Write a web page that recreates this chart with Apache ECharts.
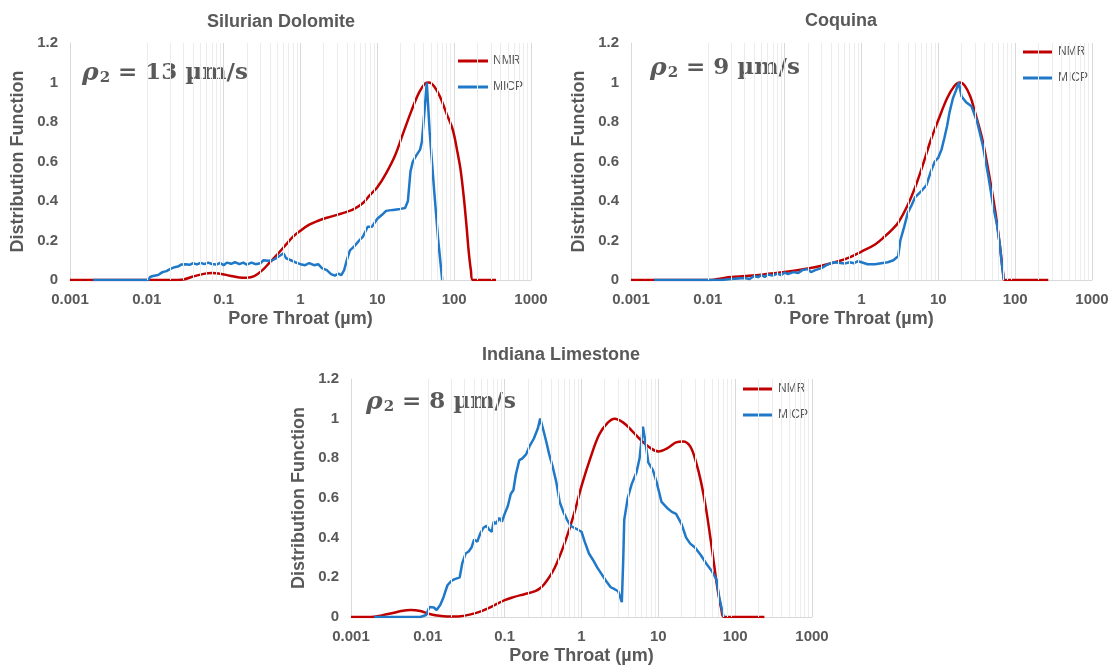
<!DOCTYPE html>
<html>
<head>
<meta charset="utf-8">
<script src="https://cdn.jsdelivr.net/npm/echarts@6/dist/echarts.min.js"></script>
<style>html,body{margin:0;padding:0;background:#fff;}#c{width:1115px;height:667px;}</style>
</head>
<body>
<div id="c"></div>
<script>
// ---------- DATA (x = pore throat in µm, y = distribution function) ----------
const titles = ['Silurian Dolomite', 'Coquina', 'Indiana Limestone'];
const rhoValues = ['13', '9', '8'];
const xTickValues = [0.001, 0.01, 0.1, 1, 10, 100, 1000];
const yTickValues = [0, 0.2, 0.4, 0.6, 0.8, 1, 1.2];

const silurianNMR = [[0.001,0],[0.02,0],[0.03,0.003],[0.04,0.018],[0.055,0.031],[0.07,0.035],[0.09,0.032],[0.12,0.022],[0.16,0.013],[0.2,0.012],[0.25,0.02],[0.32,0.05],[0.4,0.09],[0.5,0.13],[0.65,0.18],[0.8,0.22],[1,0.25],[1.3,0.28],[1.7,0.3],[2.2,0.315],[3,0.33],[4,0.345],[5,0.36],[6.5,0.39],[8,0.43],[10,0.47],[13,0.54],[17,0.63],[22,0.75],[28,0.86],[35,0.95],[42,0.995],[47,1.0],[55,0.98],[65,0.93],[80,0.84],[96,0.76],[110,0.65],[122,0.55],[135,0.4],[145,0.27],[155,0.14],[165,0.05],[175,0],[350,0]];
const silurianMICP = [[0.002,0],[0.0105,0],[0.011,0.015],[0.012,0.02],[0.014,0.025],[0.016,0.04],[0.018,0.045],[0.02,0.055],[0.023,0.065],[0.026,0.07],[0.028,0.078],[0.032,0.08],[0.036,0.077],[0.04,0.085],[0.045,0.079],[0.05,0.087],[0.056,0.08],[0.063,0.088],[0.07,0.081],[0.08,0.078],[0.09,0.086],[0.1,0.075],[0.11,0.088],[0.125,0.082],[0.14,0.09],[0.16,0.08],[0.18,0.088],[0.2,0.078],[0.23,0.088],[0.26,0.08],[0.3,0.085],[0.33,0.1],[0.38,0.097],[0.43,0.1],[0.48,0.11],[0.55,0.125],[0.6,0.135],[0.65,0.11],[0.75,0.1],[0.85,0.09],[1,0.08],[1.15,0.075],[1.3,0.086],[1.5,0.075],[1.7,0.08],[1.9,0.06],[2.2,0.05],[2.5,0.03],[2.8,0.022],[3.1,0.032],[3.4,0.025],[3.7,0.05],[4,0.1],[4.4,0.15],[5,0.17],[5.8,0.2],[6.5,0.22],[7.5,0.27],[8.5,0.27],[10,0.31],[11.5,0.33],[13,0.35],[16,0.355],[20,0.36],[23,0.365],[25,0.4],[27,0.55],[29,0.6],[32,0.63],[36,0.66],[38,0.7],[41,0.85],[44,1.0],[48,0.75],[55,0.45],[62,0.2],[70,0]];

const coquinaNMR = [[0.001,0],[0.011,0],[0.015,0.008],[0.02,0.015],[0.03,0.02],[0.05,0.027],[0.1,0.04],[0.2,0.058],[0.3,0.072],[0.5,0.095],[0.7,0.115],[1,0.144],[1.5,0.18],[2,0.22],[2.5,0.255],[3,0.29],[4,0.38],[5,0.47],[6.5,0.6],[8,0.71],[10,0.81],[13,0.92],[16,0.98],[19,1.0],[22,0.985],[26,0.93],[30,0.85],[37,0.72],[45,0.55],[55,0.35],[63,0.18],[70,0.03],[73,0],[270,0]];
const coquinaMICP = [[0.002,0],[0.015,0],[0.02,0.005],[0.025,0.008],[0.03,0.01],[0.035,0.005],[0.04,0.02],[0.045,0.015],[0.05,0.025],[0.055,0.015],[0.06,0.028],[0.07,0.022],[0.08,0.032],[0.09,0.025],[0.1,0.038],[0.11,0.03],[0.13,0.04],[0.15,0.035],[0.17,0.05],[0.2,0.055],[0.22,0.04],[0.25,0.05],[0.3,0.06],[0.35,0.075],[0.4,0.085],[0.45,0.09],[0.5,0.087],[0.6,0.083],[0.7,0.09],[0.8,0.085],[0.9,0.095],[1,0.09],[1.2,0.08],[1.5,0.08],[1.8,0.085],[2.2,0.09],[2.6,0.1],[3,0.12],[3.2,0.2],[3.6,0.27],[4,0.34],[4.5,0.38],[5,0.42],[6,0.45],[7,0.48],[8,0.55],[9,0.6],[10,0.62],[11,0.66],[12,0.72],[13,0.78],[14,0.85],[15.5,0.92],[17,0.96],[18.5,1.0],[20,0.93],[23,0.9],[27,0.88],[32,0.8],[38,0.68],[45,0.52],[52,0.37],[58,0.28],[63,0.18],[68,0.06],[71,0]];

const indianaNMR = [[0.001,0],[0.0018,0],[0.0025,0.008],[0.0035,0.02],[0.0045,0.03],[0.006,0.035],[0.008,0.03],[0.01,0.018],[0.013,0.008],[0.018,0.002],[0.025,0.003],[0.035,0.012],[0.05,0.03],[0.07,0.055],[0.1,0.085],[0.13,0.1],[0.18,0.115],[0.25,0.13],[0.3,0.15],[0.35,0.18],[0.45,0.25],[0.6,0.37],[0.8,0.52],[1,0.66],[1.3,0.8],[1.7,0.92],[2.2,0.98],[2.7,1.0],[3.5,0.98],[4.5,0.94],[6,0.89],[8,0.85],[10,0.835],[13,0.85],[17,0.88],[21,0.885],[26,0.86],[31,0.78],[36,0.68],[42,0.54],[50,0.34],[58,0.16],[66,0.04],[72,0],[240,0]];
const indianaMICP = [[0.002,0],[0.008,0],[0.0095,0.01],[0.0105,0.05],[0.012,0.048],[0.013,0.035],[0.0145,0.06],[0.016,0.1],[0.018,0.16],[0.02,0.18],[0.022,0.19],[0.026,0.2],[0.028,0.27],[0.031,0.32],[0.034,0.33],[0.037,0.35],[0.04,0.39],[0.044,0.38],[0.048,0.42],[0.053,0.45],[0.058,0.46],[0.063,0.44],[0.068,0.43],[0.072,0.48],[0.077,0.47],[0.085,0.5],[0.092,0.48],[0.1,0.52],[0.11,0.56],[0.12,0.62],[0.13,0.64],[0.14,0.72],[0.155,0.79],[0.17,0.8],[0.19,0.82],[0.21,0.86],[0.24,0.9],[0.27,0.95],[0.29,1.0],[0.32,0.94],[0.35,0.88],[0.38,0.82],[0.42,0.76],[0.47,0.68],[0.52,0.58],[0.58,0.53],[0.65,0.49],[0.72,0.46],[0.8,0.45],[0.9,0.44],[1.0,0.43],[1.1,0.38],[1.25,0.32],[1.4,0.29],[1.6,0.25],[1.8,0.22],[2.1,0.18],[2.4,0.15],[2.7,0.14],[3.0,0.13],[3.35,0.075],[3.5,0.3],[3.6,0.49],[4,0.6],[4.5,0.67],[5.2,0.73],[5.7,0.8],[6.3,0.96],[6.8,0.88],[7.4,0.78],[8.5,0.74],[9.5,0.68],[11,0.58],[13,0.55],[15,0.53],[17,0.52],[20,0.47],[23,0.4],[26,0.37],[30,0.35],[36,0.31],[42,0.27],[50,0.23],[57,0.19],[62,0.1],[67,0.04],[71,0]];

const minorGridValues = [];
for (let e = -3; e < 3; e++) { for (let k = 2; k <= 9; k++) minorGridValues.push(+(k * Math.pow(10, e)).toPrecision(3)); }

// ---------- LAYOUT ----------
const TEXT = '#595959';
const grids = [
  {left: 70, top: 43, width: 461, height: 237},
  {left: 631, top: 43, width: 461, height: 237},
  {left: 351, top: 379, width: 461, height: 238}
];
const titlePos = [[281, 22], [841, 21], [561, 355]];
const rhoPos = [[82, 73], [650, 68], [366, 402]];
const legendPos = [[458, 55], [1023, 46], [743, 383]];
const seriesData = [[silurianNMR, silurianMICP], [coquinaNMR, coquinaMICP], [indianaNMR, indianaMICP]];

const option = {
  backgroundColor: '#ffffff',
  animation: false,
  grid: grids.map(g => Object.assign({containLabel: false}, g)),
  xAxis: grids.map((g, i) => ({
    type: 'log', logBase: 10, gridIndex: i, min: xTickValues[0], max: xTickValues[xTickValues.length - 1],
    name: 'Pore Throat (µm)', nameLocation: 'middle', nameGap: 30,
    nameTextStyle: {color: TEXT, fontSize: 18, fontWeight: 'bold', fontFamily: 'Liberation Sans'},
    axisLine: {show: true, lineStyle: {color: '#d9d9d9', width: 1}},
    axisTick: {show: false},
    axisLabel: {color: TEXT, fontSize: 15, fontWeight: 'bold', fontFamily: 'Liberation Sans', margin: 12,
      formatter: v => String(+(+v).toPrecision(6))},
    splitLine: {show: true, lineStyle: {color: '#d9d9d9', width: 1}}
  })),
  yAxis: grids.map((g, i) => ({
    type: 'value', gridIndex: i, min: yTickValues[0], max: yTickValues[yTickValues.length - 1], interval: 0.2,
    name: 'Distribution Function', nameLocation: 'middle', nameGap: 43,
    nameTextStyle: {color: TEXT, fontSize: 18, fontWeight: 'bold', fontFamily: 'Liberation Sans'},
    axisLine: {show: true, lineStyle: {color: '#d9d9d9', width: 1}},
    axisTick: {show: false},
    axisLabel: {color: TEXT, fontSize: 15, fontWeight: 'bold', fontFamily: 'Liberation Sans', margin: 12,
      formatter: v => String(+(+v).toFixed(1))},
    splitLine: {show: false}
  })),
  legend: legendPos.map(p => ({
    data: ['NMR', 'MICP'], orient: 'vertical', left: p[0], top: p[1], padding: 0,
    icon: 'rect', itemWidth: 30, itemHeight: 3, itemGap: 14,
    textStyle: {color: TEXT, fontSize: 12, fontFamily: 'Liberation Sans', padding: [0, 0, 0, 0]},
    selectedMode: false
  })),
  graphic: [].concat(
    titlePos.map((p, i) => ({
      type: 'text', x: p[0], y: p[1], silent: true,
      style: {text: titles[i], fill: TEXT, font: 'bold 18px "Liberation Sans"', align: 'center', verticalAlign: 'middle',
        textAlign: 'center', textVerticalAlign: 'middle'}
    })),
    rhoPos.map((p, i) => ({
      type: 'text', x: p[0], y: p[1], silent: true,
      style: {
        text: '{r|ρ}{s|2}{t| = ' + rhoValues[i] + ' µm/s}',
        align: 'left', verticalAlign: 'middle', textAlign: 'left', textVerticalAlign: 'middle',
        rich: {
          r: {fill: TEXT, fontFamily: 'DejaVu Serif', fontStyle: 'italic', fontWeight: 'bold', fontSize: 25, verticalAlign: 'middle'},
          s: {fill: TEXT, fontFamily: 'DejaVu Serif', fontWeight: 'bold', fontSize: 15, verticalAlign: 'bottom', padding: [0, 0, 0, 1]},
          t: {fill: TEXT, fontFamily: 'DejaVu Serif', fontWeight: 'bold', fontSize: 23, verticalAlign: 'middle'}
        }
      }
    }))
  ),
  series: [].concat(...grids.map((g, i) => [
    {
      type: 'line', name: '_grid' + i, xAxisIndex: i, yAxisIndex: i, data: [], silent: true, z: 1,
      markLine: {
        silent: true, symbol: ['none', 'none'], animation: false, label: {show: false},
        lineStyle: {color: '#ececec', width: 1, type: 'solid'},
        emphasis: {disabled: true},
        data: minorGridValues.map(v => ({xAxis: v}))
      }
    },
    {
      type: 'line', name: 'NMR', xAxisIndex: i, yAxisIndex: i, data: seriesData[i][0], showSymbol: false, symbol: 'none',
      smooth: 0.35, z: 3, color: '#C00000', lineStyle: {color: '#C00000', width: 2.5}
    },
    {
      type: 'line', name: 'MICP', xAxisIndex: i, yAxisIndex: i, data: seriesData[i][1], showSymbol: false, symbol: 'none',
      smooth: false, z: 4, color: '#1F78C8', lineStyle: {color: '#1F78C8', width: 2.5}
    }
  ]))
};

const chart = echarts.init(document.getElementById('c'), null, {renderer: 'canvas'});
chart.setOption(option);
</script>
</body>
</html>
